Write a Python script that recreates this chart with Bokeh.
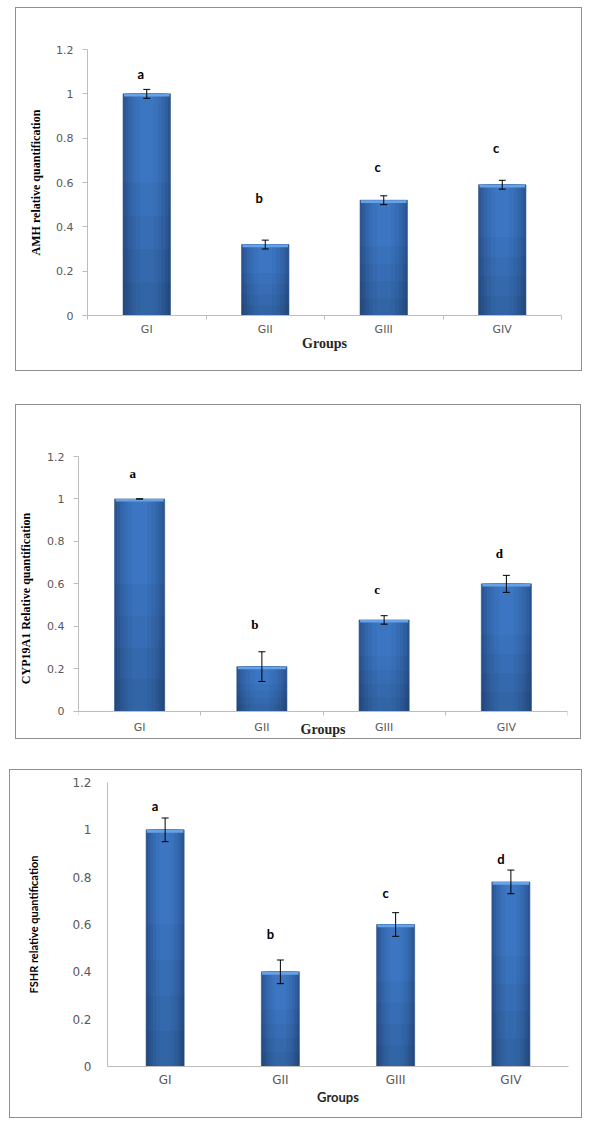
from bokeh.plotting import figure
from bokeh.models import (ColumnDataSource, Whisker, FixedTicker, NumeralTickFormatter,
                          Range1d, TeeHead, Label)
from bokeh.embed import file_html
from bokeh.resources import INLINE
from bokeh.core.properties import value

# ---------------- data ----------------
groups = ["GI", "GII", "GIII", "GIV"]
y_ticks = [0, 0.2, 0.4, 0.6, 0.8, 1.0, 1.2]

amh_values = [1.00, 0.32, 0.52, 0.59]
amh_errors = [0.02, 0.02, 0.02, 0.02]
amh_letters = ["a", "b", "c", "c"]
amh_letter_y = [1.09, 0.53, 0.67, 0.755]

cyp_values = [1.00, 0.21, 0.43, 0.60]
cyp_errors = [0.0, 0.07, 0.02, 0.04]
cyp_letters = ["a", "b", "c", "d"]
cyp_letter_y = [1.12, 0.41, 0.575, 0.745]

fshr_values = [1.00, 0.40, 0.60, 0.78]
fshr_errors = [0.05, 0.05, 0.05, 0.05]
fshr_letters = ["a", "b", "c", "d"]
fshr_letter_y = [1.10, 0.56, 0.735, 0.875]

SERIF = "Liberation Serif"
SANS = "Lato"
TICKFONT = "DejaVu Sans"

# style: horizontal shading layers (width fraction, colour)
SHADES = [(1.0, "#2b5592"), (0.9, "#2f5d9e"), (0.78, "#3365a9"),
          (0.64, "#366cb3"), (0.48, "#3971bb"), (0.3, "#3c76c2")]
# style: vertical darkening (height fraction)
DARKEN = [0.6, 0.45, 0.3, 0.15]


def make_panel(values, errors, letters, letter_y, ylabel, cfg):
    n = len(groups)
    xs = [i + 0.5 for i in range(n)]
    data = dict(
        x=xs, v=values,
        upper=[v + e for v, e in zip(values, errors)],
        lower=[v - e for v, e in zip(values, errors)],
        hl=[v - 0.012 for v in values],
        letter=letters, ly=letter_y,
    )
    for k, f in enumerate(DARKEN):
        data[f"d{k}"] = [v * f for v in values]
    src = ColumnDataSource(data)

    p = figure(width=cfg["w"], height=cfg["h"],
               x_range=Range1d(0, n), y_range=Range1d(cfg["ystart"], 1.2),
               output_backend="svg", toolbar_location=None,
               min_border_left=cfg["bl"], min_border_right=cfg["br"],
               min_border_top=cfg["bt"], min_border_bottom=cfg["bb"],
               margin=cfg["margin"])
    p.styles = {"border": "1px solid #8f8f8f", "box-sizing": "border-box"}
    p.outline_line_color = None
    p.xgrid.grid_line_color = None
    p.ygrid.grid_line_color = None
    p.background_fill_color = "white"
    p.border_fill_color = "white"

    bw = cfg["bw"]
    for i, (f, c) in enumerate(SHADES):
        p.vbar(x="x", top="v", bottom=0, width=bw * f, source=src,
               fill_color=c, line_color="#2a5088" if i == 0 else None,
               line_width=0.6)
    for k in range(len(DARKEN)):
        p.vbar(x="x", top=f"d{k}", bottom=0, width=bw, source=src,
               fill_color="black", fill_alpha=0.035, line_color=None)
    p.vbar(x="x", top="v", bottom="hl", width=bw * 0.96, source=src,
           fill_color="#67a2e6", line_color=None)

    p.add_layout(Whisker(source=src, base="x", upper="upper", lower="lower",
                         level="annotation",
                         line_color="black", line_width=1,
                         upper_head=TeeHead(size=7, line_color="black", line_width=1),
                         lower_head=TeeHead(size=7, line_color="black", line_width=1)))

    p.text(x="x", y="ly", text="letter", source=src, text_align="center",
           text_baseline="middle", text_font=value(cfg["letter_font"]),
           text_font_style="bold", text_font_size="13px", text_color="black",
           x_offset=cfg["lx"])

    # x axis
    xa = p.xaxis[0]
    if cfg["xfixed"]:
        xa.fixed_location = 0
    xa.ticker = FixedTicker(ticks=xs, minor_ticks=list(range(n + 1)))
    xa.major_label_overrides = {x: g for x, g in zip(xs, groups)}
    xa.axis_line_color = "#bdbdbd"
    xa.major_tick_line_color = None
    xa.major_tick_out = 0
    xa.major_tick_in = 0
    xa.minor_tick_line_color = "#bdbdbd" if cfg["ticks"] else None
    xa.minor_tick_out = 4
    xa.minor_tick_in = 0
    xa.major_label_text_font = TICKFONT
    xa.major_label_text_font_size = cfg["tfs"]
    xa.major_label_text_color = "#595959"
    xa.major_label_standoff = cfg["xls"]
    if cfg["xfixed"]:
        # inline axis title inside the extended frame (beside the tick labels)
        p.add_layout(Label(x=n / 2, y=cfg["glabel_y"], text="Groups",
                           text_align="center", text_baseline="middle",
                           text_font=cfg["label_font"], text_font_style="bold",
                           text_font_size=cfg["gfs"], text_color="#262626"))
    else:
        xa.axis_label = "Groups"
        xa.axis_label_text_font = cfg["label_font"]
        xa.axis_label_text_font_style = "bold"
        xa.axis_label_text_font_size = cfg["gfs"]
        xa.axis_label_text_color = "#262626"
        xa.axis_label_standoff = cfg["xlab_so"]

    # y axis
    ya = p.yaxis[0]
    ya.bounds = (0, 1.2)
    ya.ticker = FixedTicker(ticks=y_ticks)
    ya.formatter = NumeralTickFormatter(format="0.[0]")
    ya.axis_line_color = "#bdbdbd"
    ya.major_tick_line_color = "#bdbdbd" if cfg["ticks"] else None
    ya.major_tick_out = 5 if cfg["ticks"] else 0
    ya.major_tick_in = 0
    ya.minor_tick_line_color = None
    ya.major_label_text_font = TICKFONT
    ya.major_label_text_font_size = cfg["tfs"]
    ya.major_label_text_color = "#595959"
    ya.major_label_standoff = cfg["yls"]
    ya.axis_label = ylabel
    ya.axis_label_text_font = cfg["label_font"]
    ya.axis_label_text_font_style = "bold"
    ya.axis_label_text_font_size = cfg["yfs"]
    ya.axis_label_text_color = "black"
    ya.axis_label_standoff = cfg["ylab_so"]
    return p


p1 = make_panel(amh_values, amh_errors, amh_letters, amh_letter_y,
                "AMH relative quantification",
                dict(w=567, h=364, bl=71, br=22, bt=41, bb=57, margin=(7, 0, 0, 15),
                     ystart=0,
                     bw=0.4, ticks=True, tfs="11px", xls=3, yls=9, xlab_so=-3,
                     xfixed=False, gfs="14px",
                     ylab_so=10, yfs="12px", label_font=SERIF, letter_font=SANS, lx=-6))

p2 = make_panel(cyp_values, cyp_errors, cyp_letters, cyp_letter_y,
                "CYP19A1 Relative quantification",
                dict(w=566, h=335, bl=62, br=15, bt=51, bb=0, margin=(33, 0, 0, 15),
                     ystart=-0.138, glabel_y=-0.088,
                     bw=0.41, ticks=True, tfs="11px", xls=6, yls=9, xlab_so=0,
                     xfixed=True, gfs="14px",
                     ylab_so=11, yfs="12px", label_font=SERIF, letter_font=SERIF, lx=-7))

p3 = make_panel(fshr_values, fshr_errors, fshr_letters, fshr_letter_y,
                "FSHR relative quantification",
                dict(w=573, h=349, bl=97, br=15, bt=12, bb=53, margin=(30, 0, 0, 9),
                     ystart=0,
                     bw=0.33, ticks=False, tfs="12px", xls=2, yls=16, xlab_so=-1,
                     xfixed=False, gfs="13px",
                     ylab_so=29, yfs="11px", label_font=SANS, letter_font=SANS, lx=-10))

open("out.html", "w").write(file_html([p1, p2, p3], INLINE))
